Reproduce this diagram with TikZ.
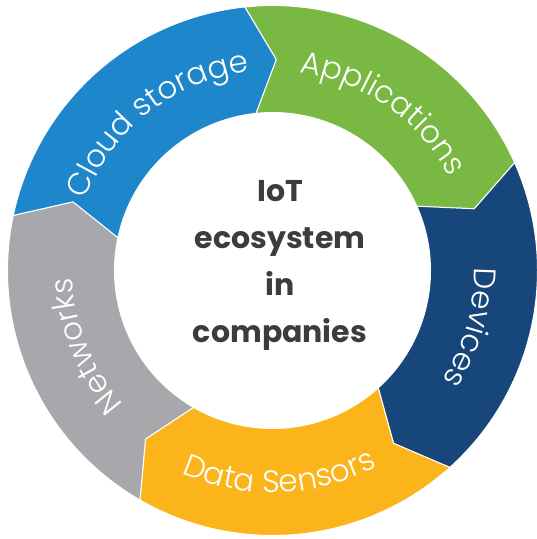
\documentclass[tikz,border=0pt]{standalone}
\usepackage{fontspec}
\setmainfont{Poppins}
\newfontfamily\lblfont{Poppins Light}
\usetikzlibrary{decorations.text}

\definecolor{cloudblue}{HTML}{1E87CB}
\definecolor{appgreen}{HTML}{79B842}
\definecolor{devblue}{HTML}{17467A}
\definecolor{sensoryellow}{HTML}{FBB41A}
\definecolor{netgray}{HTML}{A6A8AB}
\definecolor{centretext}{HTML}{3C3C3C}

% ring radii: outer, inner, and the radius of the chevron tips
\def\Ro{265pt}
\def\Ri{158pt}
\def\Rm{211pt}

% one ring segment: colour, angle of the incoming tip, angle of the outgoing tip
\newcommand\ringseg[3]{%
  \path[fill=#1, segedge]
    ([shift={({#2+7}:\Ro)}]C) arc[start angle={#2+7}, end angle={#3+7}, radius=\Ro]
    -- ([shift={({#3}:\Rm)}]C)
    -- ([shift={({#3+7}:\Ri)}]C) arc[start angle={#3+7}, end angle={#2+7}, radius=\Ri]
    -- ([shift={({#2}:\Rm)}]C) -- cycle;}

\begin{document}
\begin{tikzpicture}[x=1pt, y=1pt,
  segedge/.style={draw=white, line width=1pt, line join=round},
  ringlabel/.style={decorate, decoration={text along path, text align=center,
      text={|\lblfont\fontsize{31}{31}\selectfont\color{white}|#1}}}]
\useasboundingbox (0,0) rectangle (537,539);
\coordinate (C) at (272.5,268.5);

% the five segments, each pointing clockwise into the next
\ringseg{appgreen}{89}{17}
\ringseg{devblue}{17}{-55}
\ringseg{sensoryellow}{-55}{-127}
\ringseg{netgray}{-127}{-199}
\ringseg{cloudblue}{161}{89}

% curved labels
\path[ringlabel={Cloud storage}] ([shift={(178:200pt)}]C) arc[start angle=178, end angle=78, radius=200pt];
\path[ringlabel={Applications}] ([shift={(105:200pt)}]C) arc[start angle=105, end angle=5, radius=200pt];
\path[ringlabel={Devices}] ([shift={(34:202pt)}]C) arc[start angle=34, end angle=-66, radius=202pt];
\path[ringlabel={Data Sensors}] ([shift={(-138:222pt)}]C) arc[start angle=-138, end angle=-38, radius=222pt];
\path[ringlabel={Networks}] ([shift={(252:200pt)}]C) arc[start angle=252, end angle=152, radius=200pt];

% centre title
\node[align=center, text=centretext, font=\bfseries\fontsize{30}{47}\selectfont]
  (title) at (280,274) {IoT\\ecosystem\\in\\companies};
\end{tikzpicture}
\end{document}
